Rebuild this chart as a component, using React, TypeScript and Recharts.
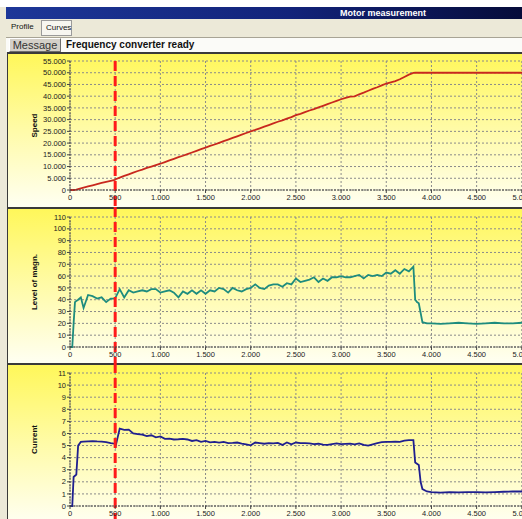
import { LineChart, Line, XAxis, YAxis, CartesianGrid, ReferenceLine } from 'recharts'

// time in ms
const TIME = [
  0, 25, 40, 55, 70, 90, 120, 150, 200, 250, 300, 350, 400, 450, 495, 505,
  550, 600, 650, 700, 750, 800, 850, 900, 950, 1000,
  1050, 1100, 1150, 1200, 1250, 1300, 1350, 1400, 1450, 1500,
  1550, 1600, 1650, 1700, 1750, 1800, 1850, 1900, 1950, 2000,
  2050, 2100, 2150, 2200, 2250, 2300, 2350, 2400, 2450, 2500,
  2550, 2600, 2650, 2700, 2750, 2800, 2850, 2900, 2950, 3000,
  3050, 3100, 3150, 3200, 3250, 3300, 3350, 3400, 3450, 3500,
  3550, 3600, 3650, 3700, 3750, 3800,
  3820, 3840, 3860, 3880, 3900, 3950,
  4000, 4100, 4200, 4300, 4400, 4500, 4600, 4700, 4800, 4900, 5000, 5100, 5200,
]

const SPEED = [
  0, 0, 0, 100, 200, 400, 700, 1000, 1500, 2000, 2500, 3000, 3500, 3900, 4300, 4600,
  5300, 6000, 6700, 7400, 8100, 8700, 9400, 10000, 10600, 11200,
  11900, 12600, 13300, 14000, 14600, 15300, 16000, 16700, 17400, 18100,
  18800, 19400, 20100, 20800, 21500, 22200, 22900, 23600, 24300, 25000,
  25600, 26300, 27000, 27700, 28400, 29100, 29700, 30400, 31100, 31900,
  32500, 33200, 33900, 34500, 35200, 35900, 36600, 37300, 38000, 38700,
  39300, 39800, 39900, 40800, 41500, 42300, 43100, 43800, 44600, 45400,
  45900, 46400, 47200, 48200, 49200, 49900,
  50000, 50000, 50000, 50000, 50000, 50000,
  50000, 50000, 50000, 50000, 50000, 50000, 50000, 50000, 50000, 50000, 50000, 50000, 50000,
]

const MAGN = [
  0, 0, 20, 38, 39, 40, 42, 33, 44, 43, 41, 42, 38, 41, 41, 42,
  49, 42, 48, 46, 47, 48, 47, 49, 49, 46,
  47, 48, 46, 42, 47, 45, 48, 45, 48, 45,
  48, 47, 50, 49, 46, 50, 48, 47, 49, 50,
  53, 50, 49, 52, 53, 53, 51, 54, 53, 58,
  55, 56, 57, 59, 55, 58, 56, 59, 59, 60,
  59, 59, 60, 61, 58, 61, 60, 61, 60, 63,
  62, 65, 62, 66, 64, 68,
  40, 38, 37, 29, 21, 20,
  20, 19.5, 20, 20.5, 20, 19.5, 20, 20.5, 20, 20, 20.5, 20, 20,
]

const CURRENT = [
  0, 0, 2.4, 2.5, 2.6, 5.0, 5.3, 5.32, 5.35, 5.36, 5.34, 5.33, 5.28, 5.2, 5.15, 4.95,
  6.4, 6.3, 6.32, 6.0, 5.95, 5.9, 5.78, 5.85, 5.68, 5.75,
  5.55, 5.58, 5.5, 5.52, 5.55, 5.5, 5.38, 5.45, 5.3, 5.38,
  5.27, 5.3, 5.25, 5.3, 5.2, 5.22, 5.25, 5.15, 5.1, 5.02,
  5.25, 5.2, 5.15, 5.2, 5.18, 5.22, 5.05, 5.25, 5.1, 5.25,
  5.2, 5.2, 5.18, 5.12, 5.15, 5.08, 5.05, 5.12, 5.18, 5.12,
  5.14, 5.15, 5.1, 5.18, 5.05, 5.0, 5.1, 5.2, 5.28, 5.3,
  5.3, 5.32, 5.3, 5.4, 5.45, 5.45,
  3.6, 3.5, 3.4, 2.0, 1.4, 1.2,
  1.15, 1.1, 1.15, 1.12, 1.15, 1.15, 1.12, 1.15, 1.18, 1.2, 1.2, 1.22, 1.2,
]

const X_TICKS = [0, 500, 1000, 1500, 2000, 2500, 3000, 3500, 4000, 4500, 5000, 5500]
const SPEED_TICKS = [0, 5000, 10000, 15000, 20000, 25000, 30000, 35000, 40000, 45000, 50000, 55000]
const MAGN_TICKS = [0, 10, 20, 30, 40, 50, 60, 70, 80, 90, 100, 110]
const CURRENT_TICKS = [0, 1, 2, 3, 4, 5, 6, 7, 8, 9, 10, 11]
const MARKER_TIME = 500

const data = TIME.map((t, i) => ({ t, speed: SPEED[i], magn: MAGN[i], current: CURRENT[i] }))

const FONT = '"Liberation Sans", Arial, sans-serif'
const fmt = (v: number) => String(v).replace(/\B(?=(\d{3})+(?!\d))/g, '.')

interface PanelProps {
  top: number
  height: number
  marginTop: number
  marginBottom: number
  dataKey: string
  color: string
  ticks: number[]
  title: string
  lineFromPlotTop?: boolean
}

function Panel({ top, height, marginTop, marginBottom, dataKey, color, ticks, title, lineFromPlotTop }: PanelProps) {
  const axisTitle = (props: any) => {
    const vb = props.viewBox || {}
    const cx = 34
    const cy = vb.y + vb.height / 2
    return (
      <text x={cx} y={cy} transform={`rotate(-90 ${cx} ${cy})`} textAnchor="middle" dominantBaseline="central"
        fontSize={8} fontWeight="bold" fill="#111" fontFamily={FONT}>
        {title}
      </text>
    )
  }

  const marker = (p: any) => (
    <line x1={p.x1} x2={p.x2} y1={lineFromPlotTop ? Math.min(p.y1, p.y2) : 0} y2={height}
      stroke="#ff1a1a" strokeWidth={3} strokeDasharray="10 5" />
  )

  return (
    <>
      <div style={{
        position: 'absolute', left: 7, top, width: 520, height, boxSizing: 'border-box',
        borderTop: '2px solid #3a3a3a', borderLeft: '1px solid #3a3a3a',
        background: 'linear-gradient(180deg, #fff75a 0%, #fffba8 50%, #fffff2 100%)',
      }} />
      <div style={{ position: 'absolute', left: 0, top }}>
        <LineChart width={567} height={height} data={data}
          margin={{ top: marginTop, right: 0, bottom: marginBottom, left: 0 }}>
          <CartesianGrid stroke="#8a8a8a" strokeDasharray="2 2" />
          <XAxis dataKey="t" type="number" domain={[0, 5500]} ticks={X_TICKS} interval={0} height={15}
            tickFormatter={fmt} tickSize={3} tickMargin={2}
            axisLine={{ stroke: '#444', strokeDasharray: '2 1' }} tickLine={{ stroke: '#444' }}
            tick={{ fontSize: 7.5, fill: '#222', fontFamily: FONT }} />
          <YAxis type="number" domain={[0, ticks[ticks.length - 1]]} ticks={ticks} interval={0} width={70}
            tickFormatter={fmt} tickSize={3} tickMargin={1}
            axisLine={{ stroke: '#444', strokeDasharray: '2 1' }} tickLine={{ stroke: '#444' }}
            tick={{ fontSize: 7.5, fill: '#222', fontFamily: FONT }} label={axisTitle} />
          <Line type="linear" dataKey={dataKey} stroke={color} strokeWidth={1.8} dot={false}
            isAnimationActive={false} />
          <ReferenceLine x={MARKER_TIME} shape={marker} />
        </LineChart>
      </div>
    </>
  )
}

export default function App() {
  return (
    <div style={{
      position: 'absolute', left: 0, top: 0, width: 522, height: 519, overflow: 'hidden',
      background: '#ece9d8', fontFamily: FONT,
    }}>
      <div style={{ position: 'absolute', left: 0, top: 0, width: 522, height: 7, background: '#fff' }} />
      <div style={{
        position: 'absolute', left: 6, top: 7, width: 516, height: 12,
        background: 'linear-gradient(90deg, #1d3798 0%, #12237a 55%, #060c3a 100%)',
      }}>
        <span style={{
          position: 'absolute', left: 334, top: 0, lineHeight: '12px', fontSize: 9,
          fontWeight: 'bold', color: '#fff',
        }}>Motor measurement</span>
      </div>
      <div style={{ position: 'absolute', left: 11, top: 21, fontSize: 8, lineHeight: '12px', color: '#111' }}>Profile</div>
      <div style={{
        position: 'absolute', left: 41, top: 20, width: 31, height: 16, boxSizing: 'border-box',
        border: '1px solid #9a9a9a', background: '#f7f6f0', fontSize: 8, lineHeight: '14px',
        color: '#111', paddingLeft: 4,
      }}>Curves</div>
      <div style={{ position: 'absolute', left: 6, top: 37, width: 516, height: 1, background: '#a8a495' }} />
      <div style={{ position: 'absolute', left: 6, top: 38, width: 516, height: 14, background: '#fbfbf8' }} />
      <div style={{
        position: 'absolute', left: 9, top: 38, width: 52, height: 14, boxSizing: 'border-box',
        border: '1px solid #6e6e6e', borderTopColor: '#fff', borderLeftColor: '#fff',
        background: '#d4d0c8', fontSize: 11, lineHeight: '12px', color: '#333', textAlign: 'center',
      }}>Message</div>
      <div style={{
        position: 'absolute', left: 66, top: 38, fontSize: 10, lineHeight: '14px', fontWeight: 'bold', color: '#111',
      }}>Frequency converter ready</div>

      <Panel top={52} height={155} marginTop={9} marginBottom={2} dataKey="speed" color="#c8281e"
        ticks={SPEED_TICKS} title="Speed" lineFromPlotTop />
      <Panel top={207} height={156} marginTop={10} marginBottom={1} dataKey="magn" color="#1e8c7e"
        ticks={MAGN_TICKS} title="Level of magn." />
      <Panel top={363} height={160} marginTop={10} marginBottom={2} dataKey="current" color="#1f1f8f"
        ticks={CURRENT_TICKS} title="Current" />
    </div>
  )
}
